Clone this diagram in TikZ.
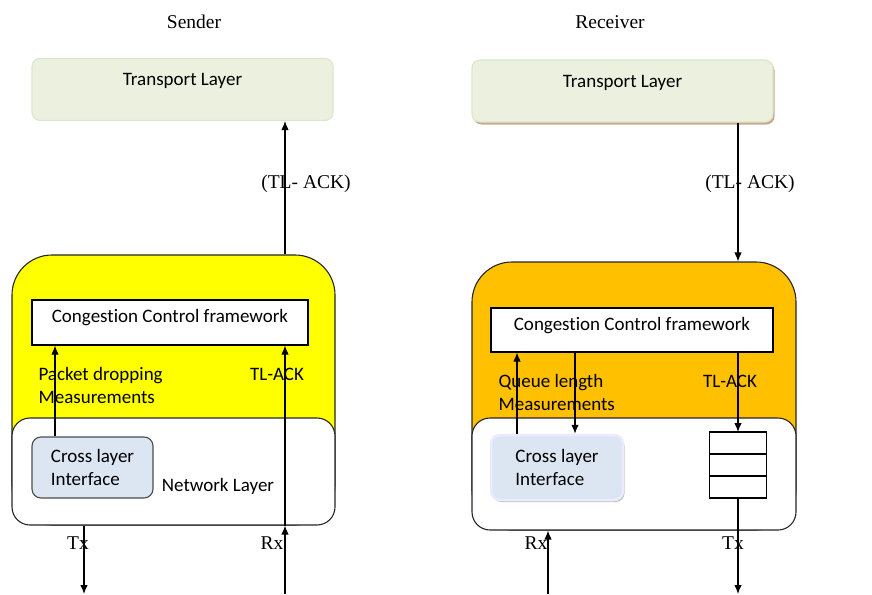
\documentclass[tikz,border=0pt]{standalone}
\usepackage{fontspec}
\setmainfont{Liberation Serif}
\newfontfamily\calib[Ligatures=NoCommon]{Carlito}
\usepackage{tikz}
\usetikzlibrary{positioning}
\usetikzlibrary{shadows}
\usetikzlibrary{arrows.meta}
\definecolor{tlgreen}{HTML}{EBF1DE}
\definecolor{tlline}{HTML}{DCE6CC}
\definecolor{sndyellow}{HTML}{FFFF00}
\definecolor{rcvorange}{HTML}{FFC000}
\definecolor{clifill}{HTML}{DCE6F2}
\definecolor{shadowbrown}{HTML}{C9A88C}
\tikzset{
  >={Latex[length=9pt, width=7.5pt]},
  sans/.style = {font=\calib\fontsize{19}{23}\selectfont},
  head/.style = {font=\fontsize{19.5}{22}\selectfont, inner sep=0pt},
  txt/.style = {sans, align=left, inner sep=0pt},
  layer/.style = {sans, draw=tlline, fill=tlgreen, rounded corners=8pt,
    minimum width=301pt, minimum height=62pt, text height=12pt, text depth=20pt},
  netbox/.style = {draw=black!85, minimum width=323pt},
  ccf/.style = {sans, draw, fill=white, minimum width=276pt, minimum height=45pt,
    text height=12pt, text depth=12pt},
  cli/.style = {sans, align=left, fill=clifill, rounded corners=9pt,
    minimum width=121pt, minimum height=61pt},
  cell/.style = {draw, fill=white, minimum width=57pt, minimum height=22pt,
    inner sep=0pt, outer sep=0pt}
}
\begin{document}
\begin{tikzpicture}[x=1pt, y=-1pt, line width=1.1pt]
  \useasboundingbox (0,0) rectangle (872,594);
  \node[head] at (194,22) (snd) {Sender};
  \node[head] at (610,22) (rcv) {Receiver};
  \node[layer] at (182.5,89.5) (sndTL) {Transport Layer};
  \node[layer, drop shadow={shadow xshift=1.5pt, shadow yshift=-2.5pt, fill=shadowbrown, opacity=1}]
    at (622.5,91) (rcvTL) {Transport Layer};
  \node[head] at (306,184) (sndTLAck) {(TL- ACK)};
  \node[head] at (750,184) (rcvTLAck) {(TL- ACK)};

  \node[netbox, fill=sndyellow, rounded corners=40pt, minimum height=270pt] at (173.5,390) (sndNode) {};
  \node[netbox, fill=white, rounded corners=18pt, minimum height=107pt] at (173.5,471.5) (sndNet) {};
  \node[ccf] at (170,322.5) (sndCCF) {Congestion Control framework};
  \node[cli, draw=black!70] at (92.5,467.5) (sndCLI) {Cross layer\\Interface};
  \node[txt, anchor=west] at (38,385.5) (sndMeas) {Packet dropping\\Measurements};
  \node[txt] at (277,374) (sndAckLbl) {TL-ACK};
  \node[txt] at (218,486) (sndNetLbl) {Network Layer};
  \node[head] at (78,543) (sndTx) {Tx};
  \node[head] at (272,543) (sndRx) {Rx};

  \node[netbox, fill=rcvorange, rounded corners=40pt, minimum width=324pt, minimum height=268pt] at (634,396) (rcvNode) {};
  \node[netbox, fill=white, rounded corners=18pt, minimum width=324pt, minimum height=112pt] at (634,474) (rcvNet) {};
  \node[ccf, minimum width=282pt, minimum height=44pt] at (632,330) (rcvCCF) {Congestion Control framework};
  \node[cli, draw=blue!8, line width=2.5pt, minimum width=132pt, minimum height=65pt,
    drop shadow={shadow xshift=1.5pt, shadow yshift=-2pt, fill=black!25, opacity=1}]
    at (557,467.5) (rcvCLI) {Cross layer\\Interface};
  \node[txt, anchor=west] at (498,392.5) (rcvMeas) {Queue length\\Measurements};
  \node[txt] at (730,381) (rcvAckLbl) {TL-ACK};
  \node[cell] at (738,443) (rcvQ1) {};
  \node[cell, below=0pt of rcvQ1] (rcvQ2) {};
  \node[cell, below=0pt of rcvQ2] (rcvQ3) {};
  \node[head] at (536,543) (rcvRx) {Rx};
  \node[head] at (733,543) (rcvTx) {Tx};

  \coordinate (sndA) at (285,594);
  \coordinate (sndB) at (84,594);
  \coordinate (sndM) at (55,0);
  \draw[->] (sndA) -- (sndNet.south -| sndA);
  \draw[->] (sndNet.south -| sndA) -- (sndCCF.south -| sndA);
  \draw[->] (sndNode.north -| sndA) -- (sndTL.south -| sndA);
  \draw[->] (sndNet.south -| sndB) -- (sndB);
  \draw[->] (sndCLI.north -| sndM) -- (sndCCF.south -| sndM);

  \coordinate (rcvA) at (738,0);
  \coordinate (rcvB) at (548,594);
  \coordinate (rcvT) at (738,594);
  \coordinate (rcvM) at (517,0);
  \coordinate (rcvN) at (575,0);
  \draw[->] (rcvTL.south -| rcvA) -- (rcvNode.north -| rcvA);
  \draw[->] (rcvCCF.south -| rcvA) -- (rcvQ1.north);
  \draw[->] (rcvQ3.south) -- (rcvT);
  \draw[->] (rcvB) -- (rcvNet.south -| rcvB);
  \draw[->] (rcvCLI.north -| rcvM) -- (rcvCCF.south -| rcvM);
  \draw[->] (rcvCCF.south -| rcvN) -- (rcvCLI.north -| rcvN);
\end{tikzpicture}
\end{document}
